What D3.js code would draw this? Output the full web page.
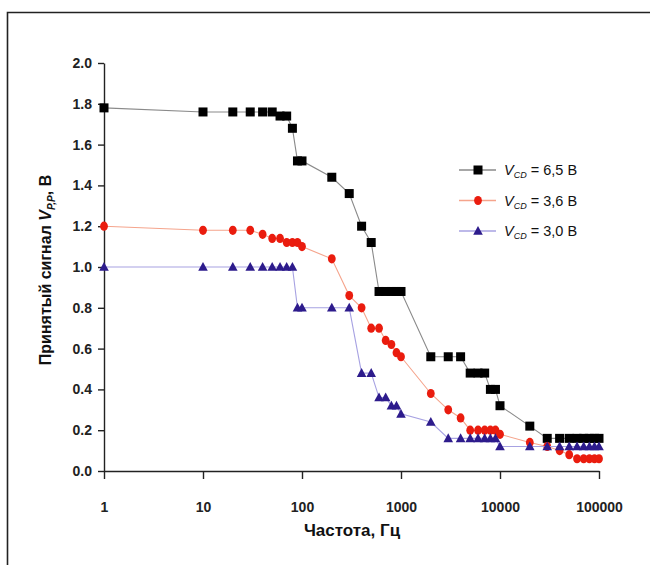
<!DOCTYPE html>
<html>
<head>
<meta charset="utf-8">
<script src="https://cdn.jsdelivr.net/npm/d3@7"></script>
<style>
  body { margin: 0; background: #fff; }
  svg { display: block; }
  .tick text { font-family: "Liberation Sans Narrow", "Liberation Sans", Arial, sans-serif; font-weight: bold; font-size: 14px; fill: #222; }
</style>
</head>
<body>
<div class="chart"></div>
<script>
// frequency points, Hz (same for all three series)
var freqs = [1, 10, 20, 30, 40, 50, 60, 70, 80, 90, 100, 200, 300, 400, 500, 600, 700, 800, 900, 1000,
  2000, 3000, 4000, 5000, 6000, 7000, 8000, 9000, 10000, 20000, 30000, 40000, 50000, 60000, 70000, 80000, 90000, 100000];

// received signal, V
var v65 = [1.78, 1.76, 1.76, 1.76, 1.76, 1.76, 1.74, 1.74, 1.68, 1.52, 1.52, 1.44, 1.36, 1.20, 1.12, 0.88, 0.88, 0.88, 0.88, 0.88,
  0.56, 0.56, 0.56, 0.48, 0.48, 0.48, 0.40, 0.40, 0.32, 0.22, 0.16, 0.16, 0.16, 0.16, 0.16, 0.16, 0.16, 0.16];
var v36 = [1.20, 1.18, 1.18, 1.18, 1.16, 1.14, 1.14, 1.12, 1.12, 1.12, 1.10, 1.04, 0.86, 0.80, 0.70, 0.70, 0.64, 0.62, 0.58, 0.56,
  0.38, 0.30, 0.26, 0.20, 0.20, 0.20, 0.20, 0.20, 0.18, 0.14, 0.12, 0.10, 0.08, 0.06, 0.06, 0.06, 0.06, 0.06];
var v30 = [1.00, 1.00, 1.00, 1.00, 1.00, 1.00, 1.00, 1.00, 1.00, 0.80, 0.80, 0.80, 0.80, 0.48, 0.48, 0.36, 0.36, 0.32, 0.32, 0.28,
  0.24, 0.16, 0.16, 0.16, 0.16, 0.16, 0.16, 0.16, 0.12, 0.12, 0.12, 0.12, 0.12, 0.12, 0.12, 0.12, 0.12, 0.12];

var seriesNames = ["6,5 В", "3,6 В", "3,0 В"];
var xTicks = [1, 10, 100, 1000, 10000, 100000];
var yTicks = [0, 0.2, 0.4, 0.6, 0.8, 1.0, 1.2, 1.4, 1.6, 1.8, 2.0];

var svgWidth = 650;
var svgHeight = 565;

var svg = d3.select(".chart")
  .append("svg")
  .attr("width", svgWidth)
  .attr("height", svgHeight);

// frame (runs off the right and bottom edge)
svg.append("path")
  .attr("d", "M7.5,580 V12.5 H660")
  .attr("fill", "none")
  .attr("stroke", "#222")
  .attr("stroke-width", 1.6);

var x = d3.scaleLog().domain([1, 100000]).range([104, 599]);
var y = d3.scaleLinear().domain([0, 2]).range([471, 63]);

// axes
svg.append("g")
  .attr("transform", "translate(0,471)")
  .call(d3.axisBottom(x).tickValues(xTicks).tickFormat(d3.format("d")).tickSize(8).tickSizeOuter(0).tickPadding(23))
  .call(g => g.select(".domain").attr("stroke", "#222").attr("stroke-width", 1.4))
  .call(g => g.selectAll(".tick line").attr("stroke", "#222").attr("stroke-width", 1.4));

svg.append("g")
  .attr("transform", "translate(104,0)")
  .call(d3.axisLeft(y).tickValues(yTicks).tickFormat(d3.format(".1f")).tickSize(6).tickSizeOuter(0).tickPadding(6))
  .call(g => g.select(".domain").attr("stroke", "#222").attr("stroke-width", 1.4))
  .call(g => g.selectAll(".tick line").attr("stroke", "#222").attr("stroke-width", 1.4));

// axis titles
svg.append("text")
  .attr("x", 352)
  .attr("y", 536)
  .attr("text-anchor", "middle")
  .attr("font-family", "Liberation Sans, Arial, sans-serif")
  .attr("font-weight", "bold")
  .attr("font-size", "17px")
  .attr("fill", "#111")
  .text("Частота, Гц");

var yTitle = svg.append("text")
  .attr("transform", "translate(51,270) rotate(-90)")
  .attr("text-anchor", "middle")
  .attr("font-family", "Liberation Sans, Arial, sans-serif")
  .attr("font-weight", "bold")
  .attr("font-size", "16px")
  .attr("fill", "#111");
yTitle.append("tspan").text("Принятый сигнал ");
yTitle.append("tspan").attr("font-style", "italic").text("V");
yTitle.append("tspan").attr("font-style", "italic").attr("font-size", "10px").attr("dy", 4).text("P,P");
yTitle.append("tspan").attr("dy", -4).text(", В");

// marker shapes
function drawMarker(g, kind, color) {
  if (kind === "square") {
    g.append("rect").attr("x", -4.5).attr("y", -4.5).attr("width", 9).attr("height", 9).attr("fill", color);
  } else if (kind === "circle") {
    g.append("ellipse").attr("rx", 3.9).attr("ry", 4.6).attr("fill", color);
  } else {
    g.append("path").attr("d", "M0,-5 L4.8,3.8 L-4.8,3.8 Z").attr("fill", color);
  }
}

var series = [
  { name: seriesNames[0], values: v65, marker: "square", color: "#000000", lineColor: "#8a8a8a" },
  { name: seriesNames[1], values: v36, marker: "circle", color: "#ea1c0e", lineColor: "#f5a48c" },
  { name: seriesNames[2], values: v30, marker: "triangle", color: "#2d1b8c", lineColor: "#a7a2e2" }
];

var line = d3.line()
  .x(d => x(d.f))
  .y(d => y(d.v));

series.forEach(function(s) {
  var pts = freqs.map((f, i) => ({ f: f, v: s.values[i] }));

  svg.append("path")
    .datum(pts)
    .attr("d", line)
    .attr("fill", "none")
    .attr("stroke", s.lineColor)
    .attr("stroke-width", 1.1);

  svg.append("g").selectAll("g")
    .data(pts)
    .enter()
    .append("g")
    .attr("transform", d => `translate(${x(d.f)},${y(d.v)})`)
    .each(function() { drawMarker(d3.select(this), s.marker, s.color); });
});

// legend
var legend = svg.append("g");
series.forEach(function(s, i) {
  var ly = 170 + i * 30.5;
  legend.append("line")
    .attr("x1", 459).attr("x2", 496)
    .attr("y1", ly).attr("y2", ly)
    .attr("stroke", s.lineColor)
    .attr("stroke-width", 1.3);
  var m = legend.append("g").attr("transform", `translate(478,${ly})`);
  drawMarker(m, s.marker, s.color);

  var t = legend.append("text")
    .attr("x", 504)
    .attr("y", ly + 5)
    .attr("font-family", "Liberation Sans, Arial, sans-serif")
    .attr("font-size", "14.5px")
    .attr("fill", "#111");
  t.append("tspan").attr("font-style", "italic").text("V");
  t.append("tspan").attr("font-style", "italic").attr("font-size", "9px").attr("dy", 3).text("CD");
  t.append("tspan").attr("dy", -3).text(" = " + s.name);
});
</script>
</body>
</html>
